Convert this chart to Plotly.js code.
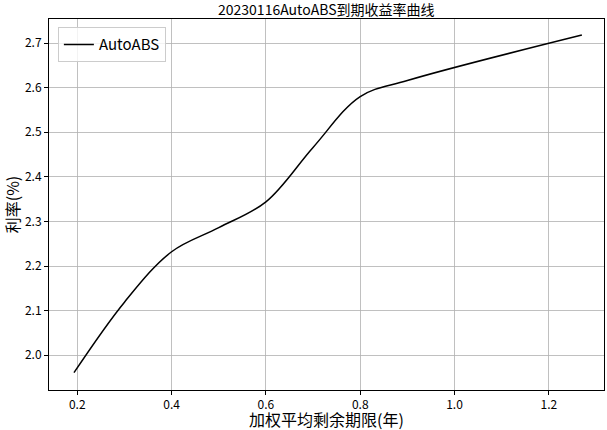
<!DOCTYPE html>
<html><head><meta charset="utf-8">
<script src="https://cdn.plot.ly/plotly-3.0.1.min.js"></script>
<style>html,body{margin:0;padding:0;background:#fff}</style>
</head><body><div id="chart" style="width:607px;height:430px"></div>
<script>
const seriesName = "AutoABS";
const term = [0.193, 0.30, 0.40, 0.50, 0.60, 0.70, 0.80, 0.90, 1.27];
const yieldPct = [1.961, 2.119, 2.232, 2.286, 2.344, 2.466, 2.580, 2.616, 2.718];
const xTicks = [0.2, 0.4, 0.6, 0.8, 1.0, 1.2];
const xTickText = ["0.2", "0.4", "0.6", "0.8", "1.0", "1.2"];
const yTicks = [2.0, 2.1, 2.2, 2.3, 2.4, 2.5, 2.6, 2.7];
const yTickText = ["2.0", "2.1", "2.2", "2.3", "2.4", "2.5", "2.6", "2.7"];

const FONT = '"Noto Sans CJK SC", "DejaVu Sans", sans-serif';
const trace = {
  x: term, y: yieldPct, type: 'scatter', mode: 'lines', name: seriesName,
  line: {color: '#000000', width: 1.5, shape: 'spline', smoothing: 1.0}
};
const axisCommon = {
  showline: true, mirror: true, linecolor: '#000000', linewidth: 1,
  ticks: 'outside', ticklen: 4, tickwidth: 1, tickcolor: '#000000',
  showgrid: true, gridcolor: '#b0b0b0', gridwidth: 0.8, zeroline: false,
  tickfont: {family: FONT, size: 12, color: '#000'}
};
const layout = {
  width: 607, height: 430,
  margin: {l: 49, r: 3, t: 19, b: 40},
  paper_bgcolor: '#fff', plot_bgcolor: '#fff',
  title: {text: '20230116AutoABS到期收益率曲线', font: {family: FONT, size: 14, color: '#000'},
          x: 0.5375, xanchor: 'center', y: 0.977, yanchor: 'middle'},
  xaxis: Object.assign({}, axisCommon, {
    range: [0.140, 1.317], tickvals: xTicks, ticktext: xTickText
  }),
  yaxis: Object.assign({}, axisCommon, {
    range: [1.922, 2.754], tickvals: yTicks, ticktext: yTickText,
    title: {text: '利率(%)', font: {family: FONT, size: 16, color: '#000'}, standoff: 6}
  }),
  annotations: [{
    text: '加权平均剩余期限(年)', xref: 'paper', yref: 'paper',
    x: 0.5, y: -0.079, xanchor: 'center', yanchor: 'middle', showarrow: false,
    font: {family: FONT, size: 16, color: '#000'}
  }],
  showlegend: true,
  legend: {x: 0.016, y: 0.978, xanchor: 'left', yanchor: 'top',
           bgcolor: 'rgba(255,255,255,0.8)', bordercolor: '#cccccc', borderwidth: 1,
           font: {family: FONT, size: 15, color: '#000'}}
};
Plotly.newPlot('chart', [trace], layout, {displayModeBar: false, staticPlot: true});
</script></body></html>
